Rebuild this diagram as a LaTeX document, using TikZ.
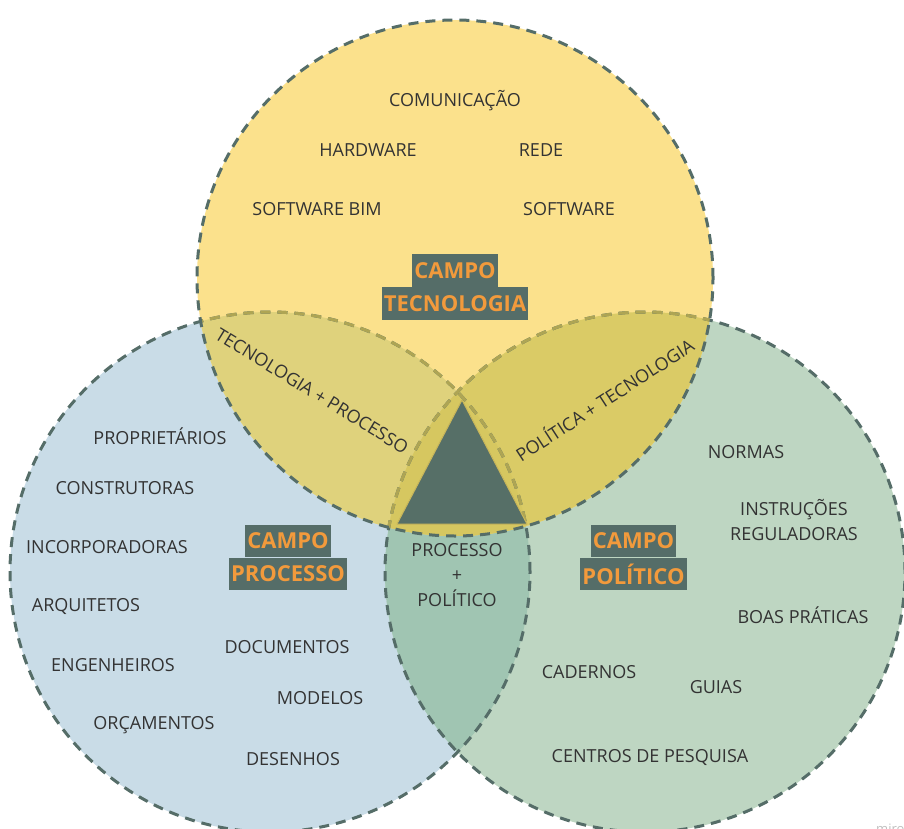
\documentclass[tikz,border=0pt]{standalone}
\usepackage{fontspec}
\setmainfont{Open Sans}
\definecolor{blueF}{HTML}{C9DCE7}
\definecolor{greenF}{HTML}{BED6C2}
\definecolor{yelF}{HTML}{FBE18C}
\definecolor{tlF}{HTML}{DFD27C}
\definecolor{trF}{HTML}{DACB66}
\definecolor{lrF}{HTML}{A0C5B2}
\definecolor{tlrF}{HTML}{D6C760}
\definecolor{triF}{HTML}{566F67}
\definecolor{triEdge}{HTML}{C9B65A}
\definecolor{darkD}{HTML}{556D68}
\definecolor{oliveD}{HTML}{AEA554}
\definecolor{txt}{HTML}{333333}
\definecolor{orangeT}{HTML}{F29A3C}
\definecolor{boxF}{HTML}{556D68}
\begin{document}
\begin{tikzpicture}[x=1pt,y=-1pt,
  dashline/.style={draw=darkD,line width=3pt,dash pattern=on 10pt off 7pt},
  lbl/.style={text=txt,font=\fontsize{18}{25}\selectfont,inner sep=0pt,align=center},
  campo/.style={fill=boxF,text=orangeT,font=\fontsize{22}{24}\selectfont\bfseries,
    inner xsep=2pt,inner ysep=0pt,minimum height=32.5pt}]
\useasboundingbox (0,0) rectangle (904,829);
\clip (0,0) rectangle (904,829);
\coordinate (T) at (455,278);
\coordinate (L) at (270,572);
\coordinate (R) at (645,572);
\def\rT{258pt}
\def\rS{260pt}

% circle fills and their overlaps
\fill[blueF] (L) circle[radius=\rS];
\fill[greenF] (R) circle[radius=\rS];
\begin{scope}
  \clip (L) circle[radius=\rS];
  \fill[lrF] (R) circle[radius=\rS];
\end{scope}
\fill[yelF] (T) circle[radius=\rT];
\begin{scope}
  \clip (T) circle[radius=\rT];
  \fill[tlF] (L) circle[radius=\rS];
  \fill[trF] (R) circle[radius=\rS];
  \clip (L) circle[radius=\rS];
  \fill[tlrF] (R) circle[radius=\rS];
\end{scope}

% dashed outlines
\draw[dashline] (L) circle[radius=\rS];
\draw[dashline] (R) circle[radius=\rS];
\begin{scope}
  \clip (T) circle[radius=\rT];
  \draw[dashline,draw=oliveD] (L) circle[radius=\rS];
  \draw[dashline,draw=oliveD] (R) circle[radius=\rS];
\end{scope}
\draw[dashline] (T) circle[radius=\rT];

% central triangle
\coordinate (ta) at (462,400);
\coordinate (tb) at (397,524);
\coordinate (tc) at (527,524);
\filldraw[fill=triF,draw=triEdge,line width=1pt,line join=round] (ta) -- (tb) -- (tc) -- cycle;

% technology field
\node[lbl] (com) at (455,101) {COMUNICAÇÃO};
\node[lbl] (hw) at (368,150) {HARDWARE};
\node[lbl] (rede) at (541,150) {REDE};
\node[lbl] (swbim) at (317,209) {SOFTWARE BIM};
\node[lbl] (sw) at (569,209) {SOFTWARE};
\node[campo] (tec2) at (455,303.5) {TECNOLOGIA};
\node[campo,anchor=south] (tec1) at (tec2.north) {CAMPO};

% overlaps
\node[lbl,rotate=-31.5] (tp) at (312,391) {TECNOLOGIA + PROCESSO};
\node[lbl,rotate=33] (pt) at (604,399) {POLÍTICA + TECNOLOGIA};
\node[lbl] (pp) at (457,575) {PROCESSO\\+\\POLÍTICO};

% process field
\node[lbl] (prop) at (160,436) {PROPRIETÁRIOS};
\node[lbl] (cons) at (125,488) {CONSTRUTORAS};
\node[lbl] (inc) at (107,547) {INCORPORADORAS};
\node[lbl] (arq) at (86,606) {ARQUITETOS};
\node[lbl] (eng) at (113,665) {ENGENHEIROS};
\node[lbl] (orc) at (154,725) {ORÇAMENTOS};
\node[lbl] (doc) at (287,647) {DOCUMENTOS};
\node[lbl] (mod) at (320,698) {MODELOS};
\node[lbl] (des) at (293,759) {DESENHOS};
\node[campo] (pro2) at (288,574) {PROCESSO};
\node[campo,anchor=south] (pro1) at (pro2.north) {CAMPO};

% political field
\node[lbl] (norm) at (746,452) {NORMAS};
\node[lbl] (inst) at (794,520) {INSTRUÇÕES\\REGULADORAS};
\node[lbl] (boas) at (803,615) {BOAS PRÁTICAS};
\node[lbl] (cad) at (589,672) {CADERNOS};
\node[lbl] (guia) at (716,687) {GUIAS};
\node[lbl] (cent) at (650,757) {CENTROS DE PESQUISA};
\node[campo] (pol2) at (633.5,574) {POLÍTICO};
\node[campo,anchor=south] (pol1) at (pol2.north) {CAMPO};

% watermark
\node[text=black!25,font=\fontsize{13}{14}\selectfont,anchor=west,inner sep=0pt] (wm) at (876,829) {miro};
\end{tikzpicture}
\end{document}
